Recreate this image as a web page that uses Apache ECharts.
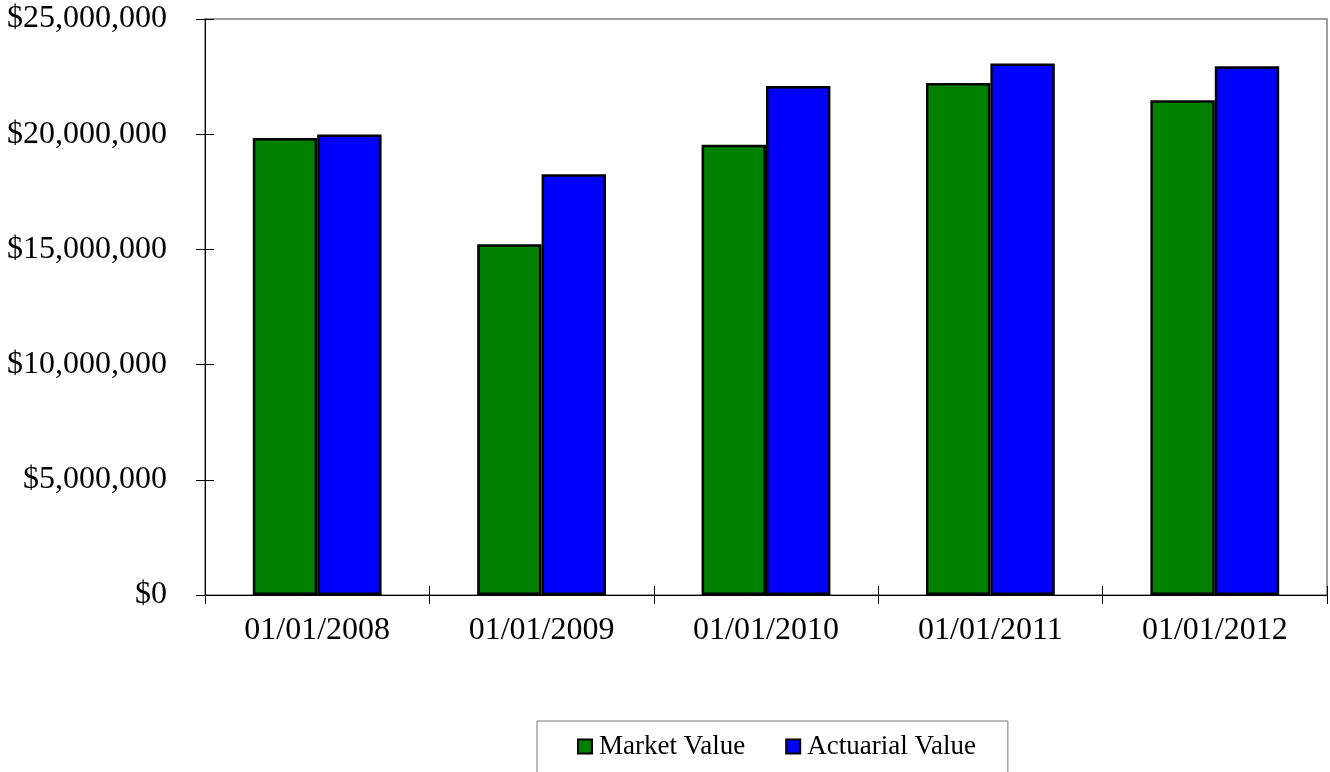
<!DOCTYPE html>
<html>
<head>
<meta charset="utf-8">
<script src="https://cdn.jsdelivr.net/npm/echarts@6/dist/echarts.min.js"></script>
<style>
  html, body { margin: 0; padding: 0; background: #fff; }
  #chart { width: 1330px; height: 772px; }
</style>
</head>
<body>
<div id="chart"></div>
<script>
const categories = ['01/01/2008', '01/01/2009', '01/01/2010', '01/01/2011', '01/01/2012']
const marketValue = [19840000, 15220000, 19540000, 22220000, 21470000]
const actuarialValue = [19990000, 18260000, 22090000, 23070000, 22950000]
const yMin = 0
const yMax = 25000000
const yStep = 5000000

const font = '"Liberation Serif", "Times New Roman", serif'

const chart = echarts.init(document.getElementById('chart'))

const money = (v) => '$' + v.toLocaleString('en-US')

const option = {
  animation: false,
  backgroundColor: '#fff',
  grid: {
    left: 205,
    right: 3,
    top: 19,
    bottom: 177,
    show: true,
    borderColor: '#808080',
    borderWidth: 1.5,
  },
  legend: {
    left: 537,
    top: 721,
    padding: [12, 32, 40, 40],
    itemWidth: 14,
    itemHeight: 14,
    itemGap: 40,
    icon: 'rect',
    borderColor: '#777',
    borderWidth: 1,
    textStyle: {
      fontFamily: font,
      fontSize: 27,
      color: '#000',
      padding: [0, 0, 0, 2],
    },
    data: ['Market Value', 'Actuarial Value'],
  },
  xAxis: [
    {
      type: 'category',
      data: categories,
      axisLine: { lineStyle: { color: '#000', width: 1 } },
      axisTick: { show: true, length: 9, lineStyle: { color: '#000' } },
      axisLabel: {
        fontFamily: font,
        fontSize: 32,
        color: '#000',
        margin: 20,
      },
      splitLine: { show: false },
    },
    {
      // inner half of the crossing ticks
      type: 'category',
      data: categories,
      position: 'bottom',
      axisLine: { show: false },
      axisTick: { show: true, inside: true, length: 9, lineStyle: { color: '#000' } },
      axisLabel: { show: false },
      splitLine: { show: false },
    },
  ],
  yAxis: [
    {
      type: 'value',
      min: yMin,
      max: yMax,
      interval: yStep,
      axisLine: { show: true, lineStyle: { color: '#000', width: 1 } },
      axisTick: { show: true, length: 9, lineStyle: { color: '#000' } },
      axisLabel: {
        fontFamily: font,
        fontSize: 32,
        color: '#000',
        margin: 38,
        formatter: money,
      },
      splitLine: { show: false },
    },
    {
      type: 'value',
      min: yMin,
      max: yMax,
      interval: yStep,
      position: 'left',
      axisLine: { show: false },
      axisTick: { show: true, inside: true, length: 9, lineStyle: { color: '#000' } },
      axisLabel: { show: false },
      splitLine: { show: false },
    },
  ],
  series: [
    {
      name: 'Market Value',
      type: 'bar',
      data: marketValue,
      barWidth: '28.7%',
      barGap: '0%',
      itemStyle: { color: '#008000', borderColor: '#000', borderWidth: 2.5 },
    },
    {
      name: 'Actuarial Value',
      type: 'bar',
      data: actuarialValue,
      barWidth: '28.7%',
      barGap: '0%',
      itemStyle: { color: '#0000ff', borderColor: '#000', borderWidth: 2.5 },
    },
  ],
}

chart.setOption(option)
</script>
</body>
</html>
